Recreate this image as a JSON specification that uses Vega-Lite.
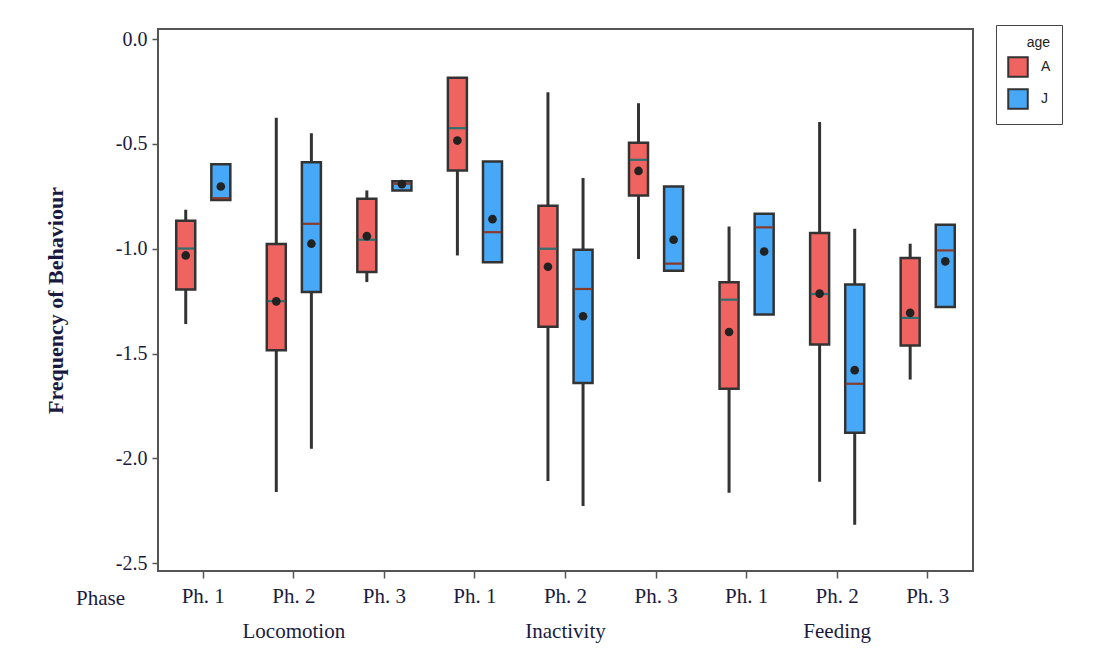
{
  "$schema": "https://vega.github.io/schema/vega-lite/v6.json",
  "width": 815,
  "height": 542,
  "autosize": {"type": "none"},
  "padding": {"left": 158, "top": 29, "right": 137, "bottom": 99},
  "background": "white",
  "data": {
    "values": [
      {"cell": "Locomotion|Ph. 1", "age": "A", "min": -1.359, "q1": -1.195, "median": -0.999, "q3": -0.867, "max": -0.814, "mean": -1.032},
      {"cell": "Locomotion|Ph. 1", "age": "J", "min": -0.767, "q1": -0.767, "median": -0.759, "q3": -0.597, "max": -0.597, "mean": -0.703},
      {"cell": "Locomotion|Ph. 2", "age": "A", "min": -2.16, "q1": -1.484, "median": -1.25, "q3": -0.978, "max": -0.375, "mean": -1.251},
      {"cell": "Locomotion|Ph. 2", "age": "J", "min": -1.954, "q1": -1.206, "median": -0.881, "q3": -0.587, "max": -0.449, "mean": -0.976},
      {"cell": "Locomotion|Ph. 3", "age": "A", "min": -1.159, "q1": -1.111, "median": -0.957, "q3": -0.762, "max": -0.722, "mean": -0.94},
      {"cell": "Locomotion|Ph. 3", "age": "J", "min": -0.722, "q1": -0.722, "median": -0.69, "q3": -0.678, "max": -0.678, "mean": -0.692},
      {"cell": "Inactivity|Ph. 1", "age": "A", "min": -1.032, "q1": -0.627, "median": -0.425, "q3": -0.184, "max": -0.184, "mean": -0.484},
      {"cell": "Inactivity|Ph. 1", "age": "J", "min": -1.065, "q1": -1.065, "median": -0.921, "q3": -0.584, "max": -0.584, "mean": -0.859},
      {"cell": "Inactivity|Ph. 2", "age": "A", "min": -2.108, "q1": -1.372, "median": -1.0, "q3": -0.795, "max": -0.254, "mean": -1.086},
      {"cell": "Inactivity|Ph. 2", "age": "J", "min": -2.227, "q1": -1.64, "median": -1.192, "q3": -1.005, "max": -0.663, "mean": -1.322},
      {"cell": "Inactivity|Ph. 3", "age": "A", "min": -1.049, "q1": -0.746, "median": -0.576, "q3": -0.494, "max": -0.306, "mean": -0.629},
      {"cell": "Inactivity|Ph. 3", "age": "J", "min": -1.105, "q1": -1.105, "median": -1.071, "q3": -0.703, "max": -0.703, "mean": -0.957},
      {"cell": "Feeding|Ph. 1", "age": "A", "min": -2.164, "q1": -1.668, "median": -1.243, "q3": -1.16, "max": -0.894, "mean": -1.397},
      {"cell": "Feeding|Ph. 1", "age": "J", "min": -1.314, "q1": -1.314, "median": -0.898, "q3": -0.833, "max": -0.833, "mean": -1.013},
      {"cell": "Feeding|Ph. 2", "age": "A", "min": -2.111, "q1": -1.457, "median": -1.216, "q3": -0.925, "max": -0.395, "mean": -1.214},
      {"cell": "Feeding|Ph. 2", "age": "J", "min": -2.317, "q1": -1.878, "median": -1.644, "q3": -1.171, "max": -0.905, "mean": -1.579},
      {"cell": "Feeding|Ph. 3", "age": "A", "min": -1.624, "q1": -1.462, "median": -1.33, "q3": -1.044, "max": -0.976, "mean": -1.306},
      {"cell": "Feeding|Ph. 3", "age": "J", "min": -1.278, "q1": -1.278, "median": -1.008, "q3": -0.886, "max": -0.886, "mean": -1.06}
    ]
  },
  "encoding": {
    "x": {
      "field": "cell",
      "type": "nominal",
      "sort": null,
      "scale": {"paddingInner": 0, "paddingOuter": 0},
      "axis": {
        "title": "Phase",
        "titleX": -58,
        "titleY": 27,
        "titleAlign": "center",
        "titleBaseline": "middle",
        "titleAnchor": null,
        "titleFont": "Liberation Serif",
        "titleFontSize": 21,
        "titleFontWeight": "normal",
        "titleColor": "#1a1a40",
        "labelExpr": "split(datum.value, '|')[1] == 'Ph. 2' ? ['Ph. 2', split(datum.value, '|')[0]] : split(datum.value, '|')[1]",
        "labelAngle": 0,
        "labelFont": "Liberation Serif",
        "labelFontSize": 21,
        "labelColor": "#1a1a40",
        "labelLineHeight": 35,
        "labelBaseline": "top",
        "labelPadding": 7,
        "labelOverlap": false,
        "labelBound": false,
        "tickSize": 7,
        "tickColor": "#555",
        "tickWidth": 1.5,
        "domain": false,
        "grid": false
      }
    },
    "xOffset": {
      "field": "age",
      "type": "nominal",
      "scale": {"paddingInner": 0, "paddingOuter": 0.29}
    }
  },
  "layer": [
    {
      "mark": {"type": "rule", "color": "#333", "strokeWidth": 3},
      "encoding": {
        "y": {
          "field": "min",
          "type": "quantitative",
          "scale": {"domain": [-2.537, 0.048], "nice": false, "zero": false},
          "axis": {
            "title": "Frequency of Behaviour",
            "titleX": -103,
            "titleY": 271,
            "titleAlign": "center",
            "titleBaseline": "middle",
            "titleFont": "Liberation Serif",
            "titleFontSize": 22,
            "titleFontWeight": "bold",
            "titleColor": "#1a1a40",
            "values": [0, -0.5, -1, -1.5, -2, -2.5],
            "labelExpr": "(datum.value < 0 ? '-' : '') + format(abs(datum.value), '.1f')",
            "labelFont": "Liberation Serif",
            "labelFontSize": 20,
            "labelColor": "#1a1a40",
            "labelPadding": 5,
            "tickSize": 6,
            "tickColor": "#555",
            "tickWidth": 1.5,
            "domain": false,
            "grid": false
          }
        },
        "y2": {"field": "max"}
      }
    },
    {
      "mark": {"type": "bar", "size": 19, "stroke": "#333", "strokeWidth": 2.5, "opacity": 1},
      "encoding": {
        "y": {"field": "q1", "type": "quantitative"},
        "y2": {"field": "q3"},
        "color": {
          "field": "age",
          "type": "nominal",
          "scale": {"domain": ["A", "J"], "range": ["#EF6461", "#46A8F7"]},
          "legend": {
            "title": "age",
            "orient": "none",
            "legendX": 838,
            "legendY": -4,
            "strokeColor": "#444",
            "fillColor": "white",
            "padding": 11,
            "titleFont": "Liberation Sans",
            "titleFontSize": 14,
            "titleFontWeight": "normal",
            "titleColor": "#222",
            "titleAnchor": "end",
            "titlePadding": 6,
            "labelFont": "Liberation Sans",
            "labelFontSize": 14,
            "labelColor": "#222",
            "labelOffset": 12,
            "symbolType": "square",
            "symbolSize": 380,
            "symbolStrokeColor": "#333",
            "symbolStrokeWidth": 2,
            "symbolOpacity": 1,
            "rowPadding": 4
          }
        }
      }
    },
    {
      "mark": {"type": "tick", "orient": "horizontal", "size": 17, "thickness": 2.2, "opacity": 1},
      "encoding": {
        "y": {"field": "median", "type": "quantitative"},
        "color": {
          "condition": {"test": "datum.age === 'A'", "value": "#2f6f6f"},
          "value": "#8a3a2a"
        }
      }
    },
    {
      "mark": {"type": "point", "filled": true, "shape": "circle", "size": 75, "color": "#222", "opacity": 1},
      "encoding": {
        "y": {"field": "mean", "type": "quantitative"}
      }
    }
  ],
  "config": {
    "view": {"stroke": "#555", "strokeWidth": 2}
  }
}
